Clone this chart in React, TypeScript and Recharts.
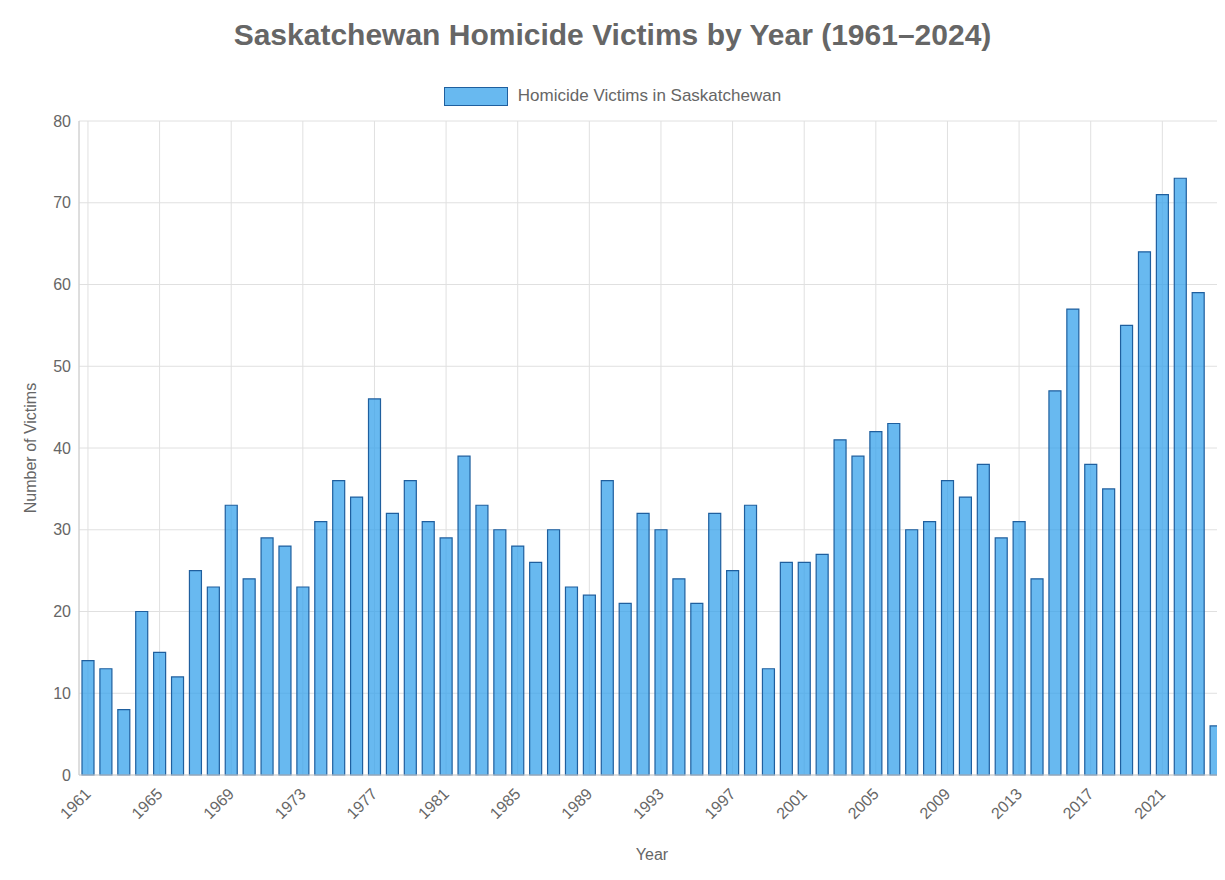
import React from "react";
import { BarChart, Bar, XAxis, YAxis, CartesianGrid } from "recharts";

const years: number[] = [];
for (let y = 1961; y <= 2024; y++) years.push(y);
const victims = [14,13,8,20,15,12,25,23,33,24,29,28,23,31,36,34,46,32,36,31,29,39,33,30,28,26,30,23,22,36,21,32,30,24,21,32,25,33,13,26,26,27,41,39,42,43,30,31,36,34,38,29,31,24,47,57,38,35,55,64,71,73,59,6];
const yTicks = [0,10,20,30,40,50,60,70,80];
const data = years.map((y, i) => ({ year: String(y), v: victims[i] }));

const font = "'Liberation Sans', Arial, Helvetica, sans-serif";

const XTick = (p: any) => {
  const { x, y, payload } = p;
  return (
    <text x={x} y={y + 8} transform={`rotate(-45 ${x} ${y + 8})`} textAnchor="end" dominantBaseline="central" fill="#666" fontSize={16} fontFamily={font}>
      {payload.value}
    </text>
  );
};

export default function App() {
  return (
    <div style={{ position: "relative", width: 1225, height: 880, margin: -8, fontFamily: font }}>
      <div style={{ position: "absolute", top: 18, left: 0, width: 1225, textAlign: "center", fontSize: 30, fontWeight: "bold", color: "#666" }}>
        Saskatchewan Homicide Victims by Year (1961–2024)
      </div>
      <div style={{ position: "absolute", top: 86, left: 0, width: 1225, display: "flex", justifyContent: "center", alignItems: "center", fontSize: 17, color: "#666" }}>
        <span style={{ display: "inline-block", width: 64, height: 19, background: "rgba(54,162,235,0.75)", border: "1.5px solid #1f5f9e", marginRight: 10, boxSizing: "border-box" }} />
        Homicide Victims in Saskatchewan
      </div>
      <BarChart width={1225} height={880} data={data} margin={{ top: 121, right: 0, bottom: 75, left: 9 }} barSize={12}>
        <CartesianGrid stroke="#e0e0e0" />
        <XAxis dataKey="year" interval={3} tick={<XTick />} tickLine={false} axisLine={{ stroke: "#ccc" }}
          label={{ value: "Year", position: "insideBottom", offset: -55, fill: "#666", fontSize: 16, fontFamily: font }} />
        <YAxis domain={[0, 80]} ticks={yTicks} width={70} tickLine={false} axisLine={{ stroke: "#ccc" }}
          tick={{ fill: "#666", fontSize: 16, fontFamily: font }}
          label={{ value: "Number of Victims", angle: -90, position: "insideLeft", dx: 16, fill: "#666", fontSize: 16, fontFamily: font, style: { textAnchor: "middle" } }} />
        <Bar dataKey="v" fill="rgba(54,162,235,0.75)" stroke="#1f5f9e" strokeWidth={1.2} isAnimationActive={false} />
      </BarChart>
    </div>
  );
}
